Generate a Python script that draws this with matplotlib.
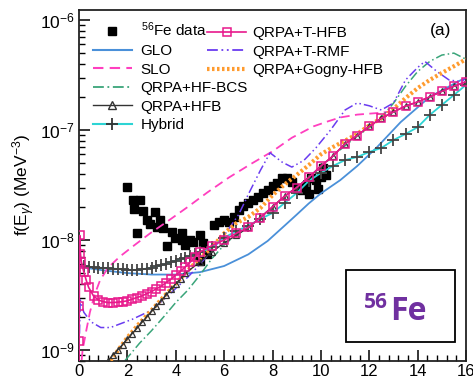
import numpy as np
import matplotlib
matplotlib.use('Agg')
import matplotlib.pyplot as plt
from matplotlib.lines import Line2D
from matplotlib.patches import Rectangle
from matplotlib.ticker import MultipleLocator, LogLocator, NullFormatter

plt.rcParams['font.family'] = ['Liberation Sans', 'DejaVu Sans']
plt.rcParams['mathtext.fontset'] = 'custom'
plt.rcParams['mathtext.rm'] = 'Liberation Sans'
plt.rcParams['mathtext.it'] = 'Liberation Sans:italic'

# ---- data (E in MeV, f in MeV^-3) ----
data_E = [1.98, 2.23, 2.52, 2.27, 2.65, 3.14, 2.81, 3.35, 2.94, 3.22, 3.47, 3.84, 2.40,
          4.26, 3.97, 4.26, 4.59, 5.00, 3.64, 4.38, 4.71, 5.13,
          5.0, 5.3, 5.6, 5.8, 6.0, 6.2, 6.4, 6.6, 6.8, 7.0, 7.2, 7.4, 7.6, 7.8, 8.0, 8.2,
          8.4, 8.6, 8.8, 9.0, 9.2, 9.4, 9.6, 9.8, 10.0, 10.2, 9.5, 9.9, 10.1]
data_f = [3.03e-8, 2.31e-8, 2.31e-8, 1.91e-8, 1.84e-8, 1.80e-8, 1.52e-8, 1.52e-8, 1.40e-8,
          1.31e-8, 1.29e-8, 1.18e-8, 1.16e-8, 1.16e-8, 1.04e-8, 1.0e-8, 1.0e-8, 1.11e-8,
          8.8e-9, 9.0e-9, 9.6e-9, 9.4e-9,
          6.5e-9, 7.5e-9, 1.37e-8, 1.46e-8, 1.52e-8, 1.46e-8, 1.62e-8, 1.87e-8, 2.04e-8,
          2.17e-8, 2.31e-8, 2.46e-8, 2.67e-8, 2.85e-8, 3.1e-8, 3.3e-8, 3.66e-8, 3.66e-8,
          3.4e-8, 2.97e-8, 2.85e-8, 3.1e-8, 3.66e-8, 3.5e-8, 3.74e-8, 3.9e-8, 2.6e-8,
          2.9e-8, 4.5e-8]

glo_E = [0, 1, 2, 3, 4, 5, 6, 7, 7.8, 8.5, 9, 9.5, 10, 10.8, 11.5, 12.3, 13.3, 14.5, 15.8, 16]
glo_f = [5.7e-9, 5.3e-9, 5.0e-9, 4.85e-9, 4.85e-9, 5.1e-9, 5.8e-9, 7.4e-9, 9.8e-9, 1.35e-8,
         1.7e-8, 2.15e-8, 2.65e-8, 3.5e-8, 4.7e-8, 6.9e-8, 1.18e-7, 2.0e-7, 2.85e-7, 2.95e-7]

slo_E = [0.05, 0.15, 0.3, 0.45, 0.65, 0.87, 1.2, 1.7, 2.3, 2.94, 3.7, 4.5, 5.3, 6.2, 7.1,
         8.0, 8.8, 9.7, 10.3, 10.8, 11.5, 12.4, 13.0]
slo_f = [6e-10, 1.0e-9, 1.5e-9, 2.2e-9, 3.2e-9, 4.3e-9, 5.6e-9, 7.1e-9, 9.0e-9, 1.15e-8,
         1.5e-8, 2.0e-8, 2.7e-8, 3.7e-8, 4.9e-8, 6.4e-8, 8.5e-8, 1.08e-7, 1.2e-7, 1.3e-7,
         1.38e-7, 1.43e-7, 1.48e-7]

bcs_E = [1.9, 2.5, 3, 3.5, 4, 4.5, 5, 5.5, 6, 6.5, 7, 7.5, 8, 8.5, 9, 9.5, 10, 10.5, 11,
         11.5, 12, 12.5, 13, 13.5, 14, 14.5, 15, 15.5, 16]
bcs_f = [8e-10, 1.15e-9, 1.5e-9, 2.0e-9, 2.7e-9, 3.5e-9, 4.8e-9, 6.8e-9, 9e-9, 1.12e-8,
         1.3e-8, 1.6e-8, 2.0e-8, 2.5e-8, 3.0e-8, 3.7e-8, 4.6e-8, 5.8e-8, 7.2e-8, 8.8e-8,
         1.05e-7, 1.3e-7, 1.75e-7, 2.5e-7, 3.4e-7, 4.2e-7, 4.8e-7, 5.0e-7, 4.4e-7]

hfb_E = [1.2, 1.4, 1.6, 1.8, 2.0, 2.2, 2.4, 2.6, 2.8, 3.0, 3.2, 3.4, 3.6, 3.8, 4.0, 4.2,
         4.4, 5.0, 5.5, 6.0, 6.5, 7.0, 7.5, 8.0, 8.5, 9.0, 9.5, 10.0, 10.5, 11.0, 11.5,
         12.0, 12.5, 13.0, 13.5, 14.0, 14.5, 15.0, 15.5, 16.0]
hfb_f = [8.0e-10, 9.0e-10, 1.0e-9, 1.12e-9, 1.26e-9, 1.41e-9, 1.58e-9, 1.78e-9, 2.0e-9,
         2.24e-9, 2.5e-9, 2.8e-9, 3.15e-9, 3.55e-9, 4.0e-9, 4.45e-9, 5.0e-9, 6.3e-9,
         7.8e-9, 9.4e-9, 1.1e-8, 1.3e-8, 1.6e-8, 2.0e-8, 2.5e-8, 3.0e-8, 3.7e-8, 4.7e-8,
         5.8e-8, 7.5e-8, 8.9e-8, 1.08e-7, 1.28e-7, 1.46e-7, 1.65e-7, 1.8e-7, 2.0e-7,
         2.25e-7, 2.5e-7, 2.75e-7]

hyb_E = [0.0, 0.2, 0.4, 0.6, 0.8, 1.0, 1.2, 1.4, 1.6, 1.8, 2.0, 2.2, 2.4, 2.6, 2.8, 3.0,
         3.2, 3.4, 3.6, 3.8, 4.0, 4.2, 4.4, 4.6, 4.8, 5.0, 5.5, 6.0, 6.5, 7.0, 7.5, 8.0,
         8.5, 9.0, 9.5, 10.0, 10.5, 11.0, 11.5, 12.0, 12.5, 13.0, 13.5, 14.0, 14.5, 15.0,
         15.5, 16.0]
hyb_f = [5.8e-9, 5.75e-9, 5.7e-9, 5.65e-9, 5.6e-9, 5.58e-9, 5.55e-9, 5.5e-9, 5.45e-9,
         5.4e-9, 5.35e-9, 5.35e-9, 5.35e-9, 5.4e-9, 5.5e-9, 5.6e-9, 5.75e-9, 5.9e-9,
         6.1e-9, 6.3e-9, 6.5e-9, 6.7e-9, 6.9e-9, 7.15e-9, 7.4e-9, 7.7e-9, 8.6e-9, 1.05e-8,
         1.2e-8, 1.35e-8, 1.55e-8, 1.76e-8, 2.17e-8, 2.67e-8, 3.44e-8, 4.07e-8, 4.71e-8,
         5.33e-8, 5.68e-8, 6.31e-8, 6.86e-8, 8.1e-8, 9.2e-8, 1.06e-7, 1.37e-7, 1.69e-7,
         2.08e-7, 2.57e-7]

thfb_E = [0.0, 0.005, 0.01, 0.03, 0.06, 0.1, 0.2, 0.3, 0.4, 0.6, 0.8, 1.0, 1.2, 1.4, 1.6,
          1.8, 2.0, 2.2, 2.4, 2.6, 2.8, 3.0, 3.2, 3.4, 3.6, 3.8, 4.0, 4.2, 4.4, 4.6, 4.8,
          5.0, 5.5, 6.0, 6.5, 7.0, 7.5, 8.0, 8.5, 9.0, 9.5, 10.0, 10.5, 11.0, 11.5, 12.0,
          12.5, 13.0, 13.5, 14.0, 14.5, 15.0, 15.5, 16.0]
thfb_f = [3e-10, 1.2e-9, 2.5e-9, 1.1e-8, 7.5e-9, 6.3e-9, 5.1e-9, 4.3e-9, 3.7e-9, 3.1e-9,
          2.85e-9, 2.75e-9, 2.7e-9, 2.7e-9, 2.72e-9, 2.75e-9, 2.8e-9, 2.9e-9, 3.0e-9,
          3.1e-9, 3.25e-9, 3.4e-9, 3.6e-9, 3.8e-9, 4.1e-9, 4.4e-9, 4.8e-9, 5.2e-9, 5.7e-9,
          6.3e-9, 7.0e-9, 7.8e-9, 8.9e-9, 1.0e-8, 1.15e-8, 1.3e-8, 1.6e-8, 2.0e-8, 2.5e-8,
          3.0e-8, 3.7e-8, 4.7e-8, 5.8e-8, 7.5e-8, 8.9e-8, 1.08e-7, 1.28e-7, 1.46e-7,
          1.65e-7, 1.8e-7, 2.0e-7, 2.25e-7, 2.5e-7, 2.75e-7]

rmf_E = [0.0, 0.05, 0.2, 0.5, 0.9, 1.3, 2.2, 3.0, 3.6, 4.5, 5.0, 5.5, 6.0, 6.6, 7.0, 7.5,
         7.9, 8.4, 8.8, 9.3, 9.8, 10.4, 11.0, 11.5, 12.0, 12.5, 13.0, 13.5, 14.0, 14.3,
         14.8, 15.3, 15.8, 16.0]
rmf_f = [9e-10, 2.85e-9, 2.2e-9, 1.8e-9, 1.6e-9, 1.6e-9, 1.9e-9, 2.3e-9, 3.0e-9, 4.6e-9,
         6.0e-9, 8.1e-9, 1.1e-8, 1.7e-8, 2.6e-8, 4.3e-8, 6.2e-8, 5.1e-8, 4.6e-8, 5.3e-8,
         6.9e-8, 1.0e-7, 1.52e-7, 1.76e-7, 1.66e-7, 1.52e-7, 1.76e-7, 2.85e-7, 3.7e-7,
         4.2e-7, 3.4e-7, 2.85e-7, 2.75e-7, 2.95e-7]

gog_E = [1.3, 2, 2.5, 3, 3.5, 4, 4.5, 5, 5.5, 6, 6.5, 7, 7.5, 8, 8.5, 9, 9.5, 10, 10.5,
         11, 11.5, 12, 12.5, 13, 13.5, 14, 14.5, 15, 15.5, 16]
gog_f = [8e-10, 1.3e-9, 1.75e-9, 2.3e-9, 3.05e-9, 4.0e-9, 5.3e-9, 6.8e-9, 8.6e-9, 1.15e-8,
         1.42e-8, 1.62e-8, 1.95e-8, 2.55e-8, 3.2e-8, 3.9e-8, 4.8e-8, 6.0e-8, 7.0e-8, 8.0e-8,
         9.2e-8, 1.1e-7, 1.28e-7, 1.55e-7, 1.95e-7, 2.4e-7, 2.85e-7, 3.3e-7, 3.8e-7, 4.4e-7]

c_glo = '#4a90d9'
c_slo = '#ff3fbf'
c_bcs = '#3aa57a'
c_hfb = '#333333'
c_hyb = '#2dd4d4'
c_thfb = '#e8198c'
c_rmf = '#6a3cf0'
c_gog = '#ff9b2e'

fig = plt.figure(figsize=(4.73, 3.83), dpi=100)
ax = fig.add_axes([79/473, 1-361/383, 387/473, 351.5/383])

ax.plot(data_E, data_f, 's', color='black', ms=5.5, zorder=1)
ax.plot(glo_E, glo_f, '-', color=c_glo, lw=1.3, zorder=2)
ax.plot(slo_E, slo_f, color=c_slo, lw=1.3, dashes=(5, 3), zorder=2)
ax.plot(bcs_E, bcs_f, color=c_bcs, lw=1.1, dashes=(6, 2, 1, 2), zorder=2)
ax.plot(rmf_E, rmf_f, color=c_rmf, lw=1.1, dashes=(6, 2, 1, 2, 1, 2), zorder=2)
ax.plot(gog_E, gog_f, color=c_gog, lw=3, dashes=(0.6, 0.6), zorder=3)
ax.plot(hfb_E, hfb_f, '-', color=c_hfb, lw=1.0, marker='^', mfc='none', mec=c_hfb,
        ms=5, mew=0.9, zorder=4)
ax.plot(hyb_E, hyb_f, '-', color=c_hyb, lw=1.3, zorder=4)
ax.plot(hyb_E, hyb_f, '+', color='#444444', ms=8, mew=1.3, zorder=4)
ax.plot(thfb_E, thfb_f, '-', color=c_thfb, lw=1.2, marker='s', mfc='none', mec=c_thfb,
        ms=6, mew=1.1, zorder=5)

ax.set_yscale('log')
ax.set_xlim(0, 16)
ax.set_ylim(7.94e-10, 1.246e-6)
ax.xaxis.set_major_locator(MultipleLocator(2))
ax.xaxis.set_minor_locator(MultipleLocator(0.4))
ax.yaxis.set_major_locator(LogLocator(base=10))
ax.yaxis.set_minor_locator(LogLocator(base=10, subs=np.arange(2, 10)))
ax.yaxis.set_minor_formatter(NullFormatter())
ax.tick_params(which='both', direction='in', top=False, right=False)
ax.tick_params(which='major', length=8, width=1.1)
ax.tick_params(which='minor', length=4, width=1.0)
ax.tick_params(axis='x', labelsize=12, pad=2)
ax.tick_params(axis='y', labelsize=12.5, pad=3)
for s in ax.spines.values():
    s.set_linewidth(1.3)
    s.set_color('#222222')

ax.set_ylabel(r'f(E$_{\gamma}$) (MeV$^{-3}$)', fontsize=12.5, labelpad=2)

left_h = [
    Line2D([], [], ls='none', marker='s', color='black', ms=5.5),
    Line2D([], [], color=c_glo, lw=1.5),
    Line2D([], [], color=c_slo, lw=1.5, dashes=(5, 3)),
    Line2D([], [], color=c_bcs, lw=1.3, dashes=(6, 2, 1, 2)),
    Line2D([], [], color=c_hfb, lw=1.0, marker='^', mfc='none', mec=c_hfb, ms=6),
    Line2D([], [], color=c_hyb, lw=1.5, marker='+', mec='#333333', ms=9, mew=1.3),
]
left_l = [r'$^{56}$Fe data', 'GLO', 'SLO', 'QRPA+HF-BCS', 'QRPA+HFB', 'Hybrid']
right_h = [
    Line2D([], [], color=c_thfb, lw=1.2, marker='s', mfc='none', mec=c_thfb, ms=6, mew=1.1),
    Line2D([], [], color=c_rmf, lw=1.3, dashes=(6, 2, 1, 2, 1, 2)),
    Line2D([], [], color=c_gog, lw=3, dashes=(0.6, 0.6)),
]
right_l = ['QRPA+T-HFB', 'QRPA+T-RMF', 'QRPA+Gogny-HFB']

leg1 = ax.legend(left_h, left_l, loc='upper left', bbox_to_anchor=(0.035, 0.968),
                 frameon=False, fontsize=11, numpoints=1, handlelength=2.6,
                 handletextpad=0.55, labelspacing=0.3, borderpad=0, borderaxespad=0)
ax.add_artist(leg1)
ax.legend(right_h, right_l, loc='upper left', bbox_to_anchor=(0.33, 0.953),
          frameon=False, fontsize=11, numpoints=1, handlelength=2.6,
          handletextpad=0.4, labelspacing=0.3, borderpad=0, borderaxespad=0)

ax.text(0.935, 0.94, '(a)', transform=ax.transAxes, fontsize=12.5, ha='center', va='center')

ax.add_patch(Rectangle((0.69, 0.054), 0.282, 0.205, transform=ax.transAxes, fill=False,
                       lw=1.3, edgecolor='black', zorder=6))
ax.text(0.798, 0.152, '56', transform=ax.transAxes, fontsize=15, fontweight='bold',
        color='#7030a0', ha='right', va='baseline', family=['Open Sans', 'DejaVu Sans'])
ax.text(0.805, 0.117, 'Fe', transform=ax.transAxes, fontsize=23, fontweight='bold',
        color='#7030a0', ha='left', va='baseline', family=['Open Sans', 'DejaVu Sans'])

fig.savefig('out.png', dpi=100)
